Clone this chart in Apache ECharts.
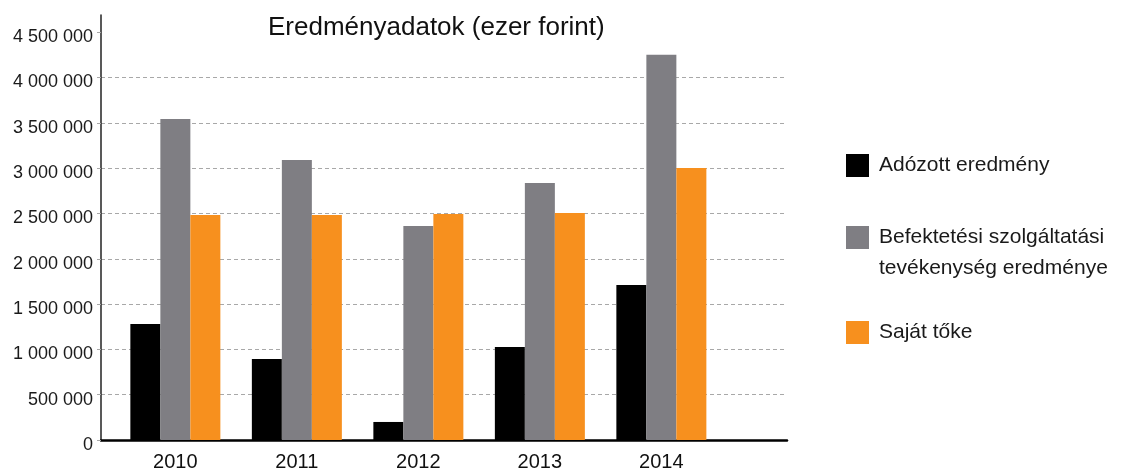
<!DOCTYPE html>
<html>
<head>
<meta charset="utf-8">
<script src="https://cdn.jsdelivr.net/npm/echarts@6/dist/echarts.min.js"></script>
<style>
  html, body { margin: 0; padding: 0; background: #fff; }
  #chart { width: 1121px; height: 468px; }
</style>
</head>
<body>
<div id="chart"></div>
<script>
// Eredményadatok oszlopdiagram
const years = [2010, 2011, 2012, 2013, 2014]
const adozott = [1280000, 894000, 199000, 1026000, 1711000]
const befektetesi = [3543000, 3091000, 2362000, 2837000, 4250000]
const sajatToke = [2483000, 2483000, 2494000, 2506000, 3002000]
const seriesNames = ['Adózott eredmény', 'Befektetési szolgáltatási\ntevékenység eredménye', 'Saját tőke']
const colors = ['#000000', '#7f7e83', '#f7901e']

const font = '"Liberation Sans", Arial, sans-serif'
const myChart = echarts.init(document.getElementById('chart'))

function pairs(vals) {
  return vals.map((v, i) => [years[i], v])
}

// rácsvonalak: a 4 500 000-es vonal nem látszik
const gridColors = []
for (let i = 0; i < 11; i++) gridColors.push(i >= 9 ? 'rgba(0,0,0,0)' : '#a8a8a8')

const legendBase = {
  orient: 'vertical',
  left: 846,
  padding: 0,
  icon: 'rect',
  itemWidth: 23,
  itemHeight: 23,
  itemGap: 0,
  itemStyle: { borderWidth: 0 },
  selectedMode: false,
  textStyle: { fontFamily: font, fontSize: 21, color: '#1a1a1a', lineHeight: 31, padding: [0, 0, 0, 5] }
}

const options = {
  backgroundColor: '#fff',
  animation: false,
  title: {
    text: 'Eredményadatok (ezer forint)',
    left: 263,
    top: 10,
    textStyle: { fontFamily: font, fontSize: 26, fontWeight: 'normal', color: '#111' }
  },
  legend: [
    Object.assign({}, legendBase, { top: 150, data: [seriesNames[0]] }),
    Object.assign({}, legendBase, {
      top: 191,
      data: [seriesNames[1]],
      // üres első sor, hogy a négyzet az első sorral egy vonalban legyen
      formatter: name => '\n' + name
    }),
    Object.assign({}, legendBase, { top: 317, data: [seriesNames[2]] })
  ],
  grid: { left: 101, right: 334, top: 15, bottom: 28, outerBoundsMode: 'none' },
  xAxis: {
    type: 'value',
    min: 2009.388,
    max: 2015.034,
    splitLine: { show: false },
    axisTick: { show: false },
    axisLine: { show: true, lineStyle: { color: '#000', width: 2.5 } },
    axisLabel: {
      customValues: years,
      margin: 12,
      fontFamily: font,
      fontSize: 20,
      color: '#111',
      formatter: v => String(Math.round(v))
    }
  },
  yAxis: {
    type: 'value',
    min: 0,
    max: 4690000,
    interval: 500000,
    axisLine: { show: true, lineStyle: { color: '#222', width: 1.5 } },
    axisTick: { show: true, length: 5, lineStyle: { color: '#a8a8a8', type: [4, 3] } },
    splitLine: {
      show: true,
      showMaxLine: false,
      lineStyle: { color: gridColors, type: [4, 3], width: 1 }
    },
    axisLabel: {
      showMaxLabel: false,
      margin: 8,
      verticalAlign: 'top',
      lineHeight: 10,
      fontFamily: font,
      fontSize: 18,
      color: '#1a1a1a',
      formatter: v => String(v).replace(/\B(?=(\d{3})+(?!\d))/g, ' ')
    }
  },
  series: [
    { name: seriesNames[0], type: 'bar', barWidth: 30, barGap: '0%', itemStyle: { color: colors[0] }, data: pairs(adozott) },
    { name: seriesNames[1], type: 'bar', barWidth: 30, barGap: '0%', itemStyle: { color: colors[1] }, data: pairs(befektetesi) },
    { name: seriesNames[2], type: 'bar', barWidth: 30, barGap: '0%', itemStyle: { color: colors[2] }, data: pairs(sajatToke) }
  ]
}

myChart.setOption(options)
</script>
</body>
</html>
